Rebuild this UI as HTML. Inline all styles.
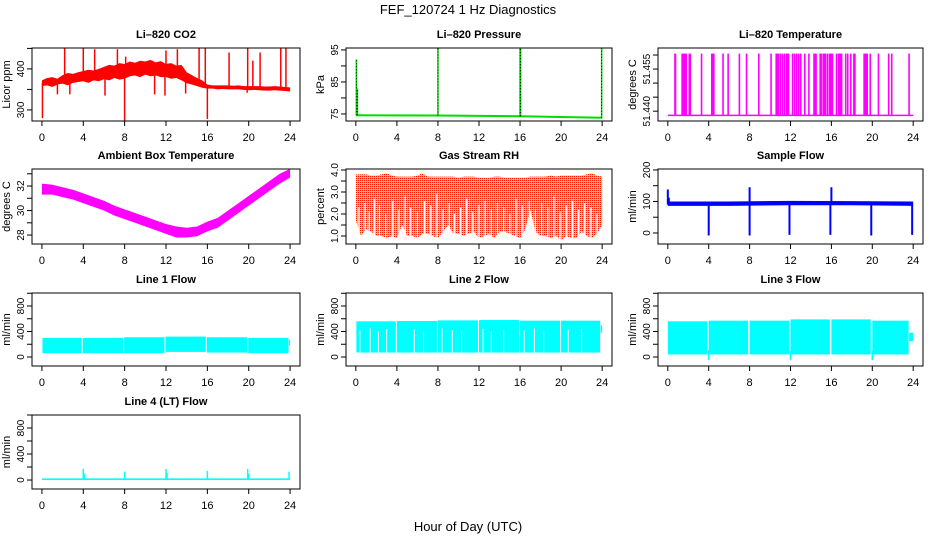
<!DOCTYPE html>
<html><head><meta charset="utf-8">
<style>
html,body{margin:0;padding:0;background:#fff;}
svg{display:block;font-family:"Liberation Sans",sans-serif;}
</style></head>
<body>
<svg id="chart" width="936" height="540" viewBox="0 0 936 540" xmlns="http://www.w3.org/2000/svg">
<defs>
<pattern id="rhpat" width="2" height="2" patternUnits="userSpaceOnUse">
<rect width="2" height="2" fill="#ffcc00"/>
<rect x="0" y="0" width="1" height="1" fill="#ff1a00"/>
</pattern>
</defs>
<text x="468" y="14" text-anchor="middle" font-size="13">FEF_120724  1 Hz Diagnostics</text>
<text x="468" y="531" text-anchor="middle" font-size="13">Hour of Day (UTC)</text>
</svg>
<script>
// ---------- data ----------
const xTicks=[0,4,8,12,16,20,24];
const hrs=[0,1,2,3,4,5,6,7,8,9,10,11,12,13,14,15,16,17,18,19,20,21,22,23,24];
const hhrs=[0,0.5,1,1.5,2,2.5,3,3.5,4,4.5,5,5.5,6,6.5,7,7.5,8,8.5,9,9.5,10,10.5,11,11.5,12,12.5,13,13.5,14,14.5,15,15.5,16,16.5,17,17.5,18,18.5,19,19.5,20,20.5,21,21.5,22,22.5,23,23.5,24];
// CO2
const co2Lo=[358,360,356,362,364,360,366,368,370,366,372,370,375,372,378,374,376,382,384,380,386,382,384,380,380,376,378,372,365,362,358,354,352,352,350,351,350,350,350,349,348,349,348,347,347,348,347,346,345];
const co2Hi=[372,378,380,376,385,390,388,392,395,398,396,400,405,410,408,414,412,418,415,420,418,422,416,419,412,414,408,410,392,385,378,372,362,360,360,360,360,359,360,358,358,358,358,357,357,358,357,356,355];
const co2SpikeH=[0.05,2.2,4.0,5.1,7.3,8.0,8.1,12.0,13.1,15.2,15.8,16.0,18.1,19.9,20.4,21.1,23.1,23.6,1.5,2.7,6.1,10.9,11.9,13.9,19.85];
const co2SpikeV=[280,450,452,448,448,273,430,445,448,450,450,278,440,452,420,440,450,450,338,338,335,338,335,340,342];
// Pressure
const pHrs=[0,8,16,24];
const pBase=[74.6,74.5,74.3,73.8];
const pSpikeH=[0.05,0.15,8.0,16.0,16.05,23.95];
const pSpikeV=[92,83,96,96,96,95.5];
// Li-820 temperature
const tBase=51.4385, tHigh=51.4605;
const tSpikeH=[0.7,0.75,1.4,1.5,1.6,1.7,1.8,2.1,2.2,3.3,4.3,4.4,4.5,5.4,5.9,7.0,7.7,8.9,10.1,10.6,10.7,10.8,11.0,11.2,11.4,11.6,11.7,11.8,12.2,12.4,12.6,12.8,13.0,13.4,13.8,14.3,14.4,14.5,14.9,15.0,15.2,15.3,15.4,15.6,15.8,15.9,16.0,16.1,16.5,16.7,16.8,16.9,17.0,17.4,17.6,17.9,18.2,18.3,19.2,19.3,19.4,19.5,19.8,20.6,21.6,21.9,23.6];
// Ambient box temperature
const ambLo=[31.3,31.3,31.1,30.9,30.6,30.3,30.0,29.6,29.3,29.0,28.7,28.4,28.1,27.8,27.8,27.9,28.3,28.6,29.2,29.8,30.4,31.0,31.6,32.2,32.7];
const ambHi=[32.2,32.1,31.9,31.7,31.4,31.1,30.8,30.4,30.1,29.8,29.5,29.2,28.9,28.7,28.6,28.7,29.1,29.4,30.0,30.6,31.2,31.8,32.4,33.0,33.4];
// Gas stream RH
const rhHi=[3.8,3.8,3.8,3.75,3.75,3.8,3.85,3.75,3.7,3.7,3.7,3.7,3.75,3.85,3.7,3.7,3.7,3.7,3.7,3.7,3.65,3.7,3.7,3.7,3.65,3.65,3.65,3.7,3.7,3.65,3.65,3.65,3.65,3.65,3.7,3.7,3.7,3.7,3.75,3.7,3.75,3.75,3.75,3.75,3.75,3.8,3.85,3.75,3.7];
const rhLo=[1.7,1.0,1.3,1.2,1.0,1.0,0.9,1.0,0.9,1.5,1.0,1.0,0.9,1.1,1.1,1.0,0.9,1.2,1.5,1.1,1.1,1.0,1.1,1.2,0.9,1.0,1.1,0.9,1.2,1.2,1.1,1.0,0.9,1.3,2.2,1.2,1.0,1.0,0.9,1.0,0.8,1.0,0.9,0.9,1.2,1.0,0.9,1.1,1.5];
const rhGapH=[0.3,0.9,1.3,1.8,2.3,2.9,3.6,4.2,4.8,5.3,6.0,6.7,7.3,7.9,8.5,9.1,9.6,10.2,10.8,11.4,12.0,12.6,13.2,13.8,14.4,15.0,15.6,16.2,16.9,17.5,18.1,18.7,19.3,19.9,20.5,21.1,21.7,22.3,22.9,23.5];
const rhGapTop=[2.3,2.5,2.1,2.7,2.4,2.0,2.6,2.2,2.8,2.3,2.1,2.6,2.4,2.9,2.2,2.5,2.0,2.3,2.7,2.1,2.4,2.6,2.2,2.5,2.3,2.0,2.7,2.4,2.6,2.2,2.5,2.3,2.8,2.1,2.4,2.6,2.2,2.5,2.3,2.0];
// Sample flow
const sfHrs=[0,6,12,18,24];
const sfLo=[86,86,88,88,86];
const sfHi=[100,100,102,101,100];
const sfDipH=[4.0,8.0,11.9,15.9,19.9,23.9];
const sfDipV=[-8,-8,-6,-6,-8,-6];
const sfUpH=[0.0,0.1,8.0,16.0];
const sfUpV=[138,112,145,145];
// Line flows
const l1Start=[0.05,3.95,7.95,11.95,15.95,19.95,23.9];
const l1End=[3.85,7.85,11.85,15.85,19.85,23.85,24.0];
const l1Lo=[60,60,60,80,70,60,180];
const l1Hi=[300,300,310,320,310,300,270];
const l2Start=[0.05,4.0,8.0,12.0,16.0,20.0,23.85];
const l2End=[3.9,7.9,11.9,15.9,19.9,23.8,24.0];
const l2Lo=[70,70,70,70,70,70,380];
const l2Hi=[560,565,575,580,570,570,500];
const l2WhiteH=[0.4,1.4,2.2,3.0,5.7,6.6,8.4,9.4,10.3,12.4,13.2,14.4,16.4,17.4,18.3,20.7,22.0];
const l2WhiteTop=[420,450,400,440,430,400,450,420,410,440,400,430,420,450,410,430,440];
const l3Start=[0.0,4.0,8.0,12.0,16.0,20.0,23.6];
const l3End=[3.85,7.85,11.85,15.85,19.85,23.55,24.0];
const l3Lo=[40,40,40,40,40,40,250];
const l3Hi=[560,570,570,590,590,570,380];
const l3DipH=[4.0,12.0,20.0];
const l3DipV=[-50,-50,-50];
// Line 4
const l4SpikeH=[4.0,4.1,8.0,12.0,12.1,16.0,19.9,20.0,23.9];
const l4SpikeV=[170,100,130,170,110,140,170,100,130];
const l4Lo=0, l4Hi=25;

// ---------- drawing ----------
const svg=document.getElementById('chart');
const NS='http://www.w3.org/2000/svg';
function mk(tag,attrs,parent){const e=document.createElementNS(NS,tag);for(const k in attrs)e.setAttribute(k,attrs[k]);(parent||svg).appendChild(e);return e;}
function interp(xs,ys,x){if(x<=xs[0])return ys[0];for(let i=1;i<xs.length;i++){if(x<=xs[i]){const t=(x-xs[i-1])/(xs[i]-xs[i-1]);return ys[i-1]+t*(ys[i]-ys[i-1]);}}return ys[ys.length-1];}

const cols=[{l:32,r:300},{l:346,r:612},{l:658,r:923}];
const rows=[{t:48,b:121},{t:169,b:244},{t:293,b:366},{t:415,b:489}];

function panel(cfg){
  const c=cols[cfg.col], rw=rows[cfg.row];
  const L=c.l,R=c.r,T=rw.t,B=rw.b;
  const pad=(R-L)*0.04/1.08;
  const sx=h=>L+pad+(h/24)*(R-L-2*pad);
  const sy=v=>B-(v-cfg.ymin)/(cfg.ymax-cfg.ymin)*(B-T);
  const g=mk('g',{});
  
  
  const title=mk('text',{x:(L+R)/2,y:T-10,'text-anchor':'middle','font-size':11,'font-weight':'bold'},g);
  title.textContent=cfg.title;
  
  
  const clipId='clip'+cfg.name;
  const cp=mk('clipPath',{id:clipId},g);mk('rect',{x:L,y:T,width:R-L,height:B-T},cp);
  const data=mk('g',{'clip-path':'url(#'+clipId+')'},g);
  
  
  cfg.draw(data,sx,sy);
  const box=mk('rect',{x:L,y:T,width:R-L,height:B-T,fill:'none',stroke:'#000','stroke-width':1},g);
  
  
  const xa=mk('g',{},g);
  
  
  mk('line',{x1:sx(0),x2:sx(24),y1:B,y2:B,stroke:'#000'},xa);
  xTicks.forEach(h=>{
    mk('line',{x1:sx(h),x2:sx(h),y1:B,y2:B+5,stroke:'#000'},xa);
    const t=mk('text',{x:sx(h),y:B+20,'text-anchor':'middle','font-size':11},xa);t.textContent=h;
  });
  const ya=mk('g',{},g);
  
  
  const tv=cfg.yticks;
  mk('line',{x1:L,x2:L,y1:sy(tv[0]),y2:sy(tv[tv.length-1]),stroke:'#000'},ya);
  tv.forEach((v,i)=>{
    const y=sy(v);
    mk('line',{x1:L-5,x2:L,y1:y,y2:y,stroke:'#000'},ya);
    const lab=cfg.ylabels[i];
    if(lab){const t=mk('text',{x:0,y:0,'text-anchor':'middle','font-size':10,transform:'translate('+(L-8)+','+y+') rotate(-90)'},ya);t.textContent=lab;}
  });
  const yl=mk('text',{x:0,y:0,'text-anchor':'middle','font-size':11,transform:'translate('+(L-22)+','+((T+B)/2)+') rotate(-90)'},g);
  yl.textContent=cfg.ylab;
  
  
}
function band(g,xs,lo,hi,sx,sy,fill){
  let pts=xs.map((h,i)=>sx(h)+','+sy(hi[i]));
  for(let i=xs.length-1;i>=0;i--)pts.push(sx(xs[i])+','+sy(lo[i]));
  mk('polygon',{points:pts.join(' '),fill:fill},g);
}
function vline(g,x,y1,y2,col,w,extra){return mk('line',Object.assign({x1:x,x2:x,y1:y1,y2:y2,stroke:col,'stroke-width':w||1.5},extra||{}),g);}

panel({name:'co2-panel',title:'Li\u2013820 CO2',col:0,row:0,ymin:273,ymax:451,yticks:[300,350,400,450],ylabels:['300','','400',''],ylab:'Licor ppm',
 draw:(g,sx,sy)=>{
  band(g,hhrs,co2Lo,co2Hi,sx,sy,'#ff0000');
  co2SpikeH.forEach((h,i)=>{const m=(interp(hhrs,co2Lo,h)+interp(hhrs,co2Hi,h))/2;vline(g,sx(h),sy(m),sy(co2SpikeV[i]),'#ff0000',1.5);});
 }});
panel({name:'pressure-panel',title:'Li\u2013820 Pressure',col:1,row:0,ymin:72.8,ymax:95.6,yticks:[75,80,85,90,95],ylabels:['75','','85','','95'],ylab:'kPa',
 draw:(g,sx,sy)=>{
  mk('polyline',{points:pHrs.map((h,i)=>sx(h)+','+sy(pBase[i])).join(' '),fill:'none',stroke:'#00dd00','stroke-width':2},g);
  pSpikeH.forEach((h,i)=>{const b=interp(pHrs,pBase,h);vline(g,sx(h),sy(b),sy(pSpikeV[i]),'#00dd00',1.5);vline(g,sx(h),sy(b),sy(pSpikeV[i]),'#000',1,{'stroke-dasharray':'1,2'});});
 }});
panel({name:'licor-temp-panel',title:'Li\u2013820 Temperature',col:2,row:0,ymin:51.4365,ymax:51.4625,yticks:[51.440,51.445,51.450,51.455,51.460],ylabels:['51.440','','','51.455',''],ylab:'degrees C',
 draw:(g,sx,sy)=>{
  mk('line',{x1:sx(0),x2:sx(24),y1:sy(tBase),y2:sy(tBase),stroke:'#ff00ff','stroke-width':1.5},g);
  tSpikeH.forEach(h=>{mk('rect',{x:sx(h)-0.8,y:sy(tHigh),width:1.6,height:sy(tBase)-sy(tHigh),fill:'#ff00ff'},g);});
 }});
panel({name:'ambient-temp-panel',title:'Ambient Box Temperature',col:0,row:1,ymin:27.27,ymax:33.39,yticks:[28,29,30,31,32,33],ylabels:['28','','30','','32',''],ylab:'degrees C',
 draw:(g,sx,sy)=>{band(g,hrs,ambLo,ambHi,sx,sy,'#ff00ff');}});
panel({name:'gas-rh-panel',title:'Gas Stream RH',col:1,row:1,ymin:0.636,ymax:4.045,yticks:[1.0,1.5,2.0,2.5,3.0,3.5,4.0],ylabels:['1.0','','2.0','','3.0','','4.0'],ylab:'percent',
 draw:(g,sx,sy)=>{
  band(g,hhrs,rhLo,rhHi,sx,sy,'url(#rhpat)');
  rhGapH.forEach((h,i)=>{vline(g,sx(h),sy(0.6),sy(rhGapTop[i]),'#ffffff',1.2);});
 }});
panel({name:'sample-flow-panel',title:'Sample Flow',col:2,row:1,ymin:-35,ymax:203,yticks:[0,50,100,150,200],ylabels:['0','','100','','200'],ylab:'ml/min',
 draw:(g,sx,sy)=>{
  band(g,sfHrs,sfLo,sfHi,sx,sy,'#0000ff');
  sfDipH.forEach((h,i)=>{vline(g,sx(h),sy(90),sy(sfDipV[i]),'#0000ff',2);});
  sfUpH.forEach((h,i)=>{vline(g,sx(h),sy(90),sy(sfUpV[i]),'#0000ff',2);});
 }});
function blocks(g,sx,sy,st,en,lo,hi){st.forEach((s,i)=>{mk('rect',{x:sx(s),y:sy(hi[i]),width:sx(en[i])-sx(s),height:sy(lo[i])-sy(hi[i]),fill:'#00ffff'},g);});}
const flowTicks=[0,200,400,600,800,1000], flowLabels=['0','','400','','800',''];
panel({name:'line1-flow-panel',title:'Line 1 Flow',col:0,row:2,ymin:-141,ymax:1004,yticks:flowTicks,ylabels:flowLabels,ylab:'ml/min',
 draw:(g,sx,sy)=>{blocks(g,sx,sy,l1Start,l1End,l1Lo,l1Hi);}});
panel({name:'line2-flow-panel',title:'Line 2 Flow',col:1,row:2,ymin:-141,ymax:1004,yticks:flowTicks,ylabels:flowLabels,ylab:'ml/min',
 draw:(g,sx,sy)=>{blocks(g,sx,sy,l2Start,l2End,l2Lo,l2Hi);l2WhiteH.forEach((h,i)=>vline(g,sx(h),sy(60),sy(l2WhiteTop[i]),'#ffffff',1));}});
panel({name:'line3-flow-panel',title:'Line 3 Flow',col:2,row:2,ymin:-141,ymax:1004,yticks:flowTicks,ylabels:flowLabels,ylab:'ml/min',
 draw:(g,sx,sy)=>{blocks(g,sx,sy,l3Start,l3End,l3Lo,l3Hi);l3DipH.forEach((h,i)=>vline(g,sx(h),sy(100),sy(l3DipV[i]),'#00ffff',1.5));}});
panel({name:'line4-flow-panel',title:'Line 4 (LT) Flow',col:0,row:3,ymin:-138,ymax:1000,yticks:flowTicks,ylabels:flowLabels,ylab:'ml/min',
 draw:(g,sx,sy)=>{
  mk('rect',{x:sx(0),y:sy(l4Hi),width:sx(24)-sx(0),height:sy(l4Lo)-sy(l4Hi),fill:'#00ffff'},g);
  l4SpikeH.forEach((h,i)=>vline(g,sx(h),sy(0),sy(l4SpikeV[i]),'#00ffff',1.5));
 }});
</script>
</body></html>
